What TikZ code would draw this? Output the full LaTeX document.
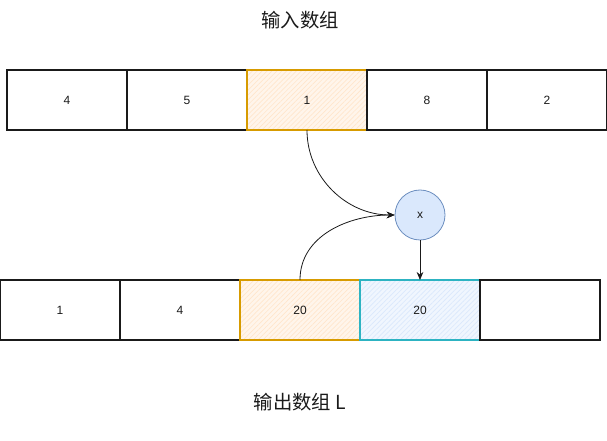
\documentclass[tikz,border=0pt]{standalone}
\usepackage{fontspec}
\setmainfont{Liberation Sans}
\newfontfamily\cjk{Noto Sans CJK SC}
\usetikzlibrary{positioning,arrows.meta,patterns.meta}
\definecolor{ink}{HTML}{1A1A1A}
\definecolor{amberline}{HTML}{D79B00}
\definecolor{amberfill}{HTML}{FFE6CC}
\definecolor{bluefill}{HTML}{DAE8FC}
\definecolor{blueline}{HTML}{6C8EBF}
\definecolor{tealline}{HTML}{2DB3C2}

\begin{document}
\begin{tikzpicture}[
  x=0.75pt, y=-0.75pt,
  font=\small,
  cell/.style  = {draw=ink, line width=0.9pt, minimum width=90pt, minimum height=45pt,
                  inner sep=0pt, outer sep=0pt, text=ink},
  picked/.style = {cell, draw=amberline,
                   preaction={fill=amberfill!40},
                   preaction={pattern={Lines[angle=45,distance=2.6pt,line width=0.5pt]},
                              pattern color=amberfill}},
  placed/.style = {cell, draw=tealline,
                   preaction={fill=bluefill!40},
                   preaction={pattern={Lines[angle=45,distance=2.6pt,line width=0.5pt]},
                              pattern color=bluefill}},
  op/.style    = {circle, draw=blueline, fill=bluefill, line width=0.6pt,
                  minimum size=37.5pt, inner sep=0pt, text=ink},
  arr/.style   = {-{Stealth[length=6pt,width=5pt]}, draw=ink, line width=0.6pt},
  title/.style = {font=\cjk\fontsize{14.5}{17}\selectfont, text=ink},
]
\useasboundingbox (0,0) rectangle (607,441);

% input row
\node[cell] (a1) at (67,100) {4};
\node[cell, right=0pt of a1] (a2) {5};
\node[picked, right=0pt of a2] (a3) {1};
\node[cell, right=0pt of a3] (a4) {8};
\node[cell, right=0pt of a4] (a5) {2};

% output row
\node[cell] (b1) at (60,310) {1};
\node[cell, right=0pt of b1] (b2) {4};
\node[picked, right=0pt of b2] (b3) {20};
\node[placed, right=0pt of b3] (b4) {20};
\node[cell, right=0pt of b4] (b5) {};

\node[op] (x) at (420,215) {x};

\node[title] (tin) at (300,20) {输入数组};
\node[title] (tout) at (300,402) {输出数组 L};

\draw[arr] (a3.south) to[out=-90, in=180] (x.west);
\draw[arr] (b3.north) to[out=90, in=180] (x.west);
\draw[arr] (x.south) -- (b4.north);

\end{tikzpicture}
\end{document}
